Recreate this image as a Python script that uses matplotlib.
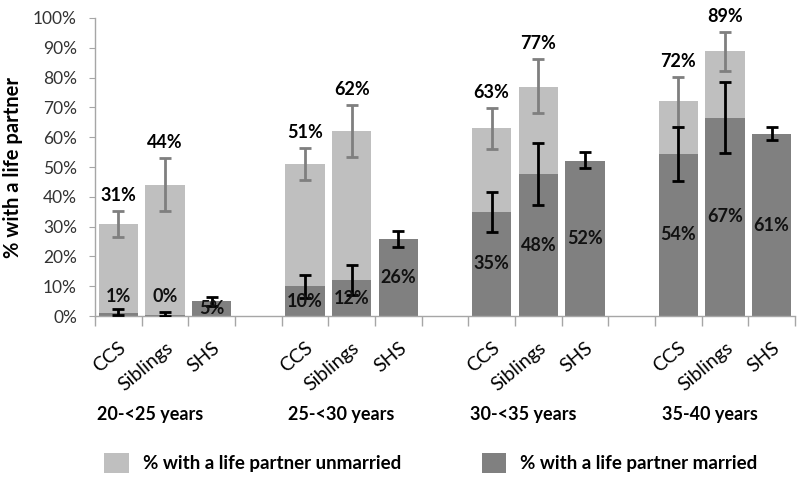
import matplotlib
matplotlib.use("Agg")
import matplotlib.pyplot as plt
from matplotlib.patches import Patch
from matplotlib.transforms import ScaledTranslation
import numpy as np

plt.rcParams['font.family'] = ['Lato', 'DejaVu Sans']

groups = ["20-<25 years", "25-<30 years", "30-<35 years", "35-40 years"]
cohorts = ["CCS", "Siblings", "SHS"]

# married (%), per group: CCS, Siblings, SHS
married = [1, 0.4, 5,
           10, 12, 26,
           35, 47.6, 52,
           54.4, 66.6, 61]
married_lo = [0.3, 0.0, 3.5,
              6.0, 7.0, 23.3,
              28.1, 37.1, 49.6,
              45.4, 54.8, 59.1]
married_hi = [2.2, 1.3, 6.5,
              13.8, 17.1, 28.6,
              41.7, 58.2, 54.9,
              63.5, 78.6, 63.3]

# total with life partner (married + unmarried), CCS and Siblings only
total = [31, 44, 51, 62, 63, 77, 72, 89]
total_lo = [26.6, 35.3, 45.6, 53.5, 56.0, 68.0, 63.5, 82.3]
total_hi = [35.3, 52.9, 56.5, 70.8, 69.7, 86.1, 80.1, 95.4]

light = '#bfbfbf'
dark = '#808080'

fig = plt.figure(figsize=(8, 4.86), dpi=100)
ax = fig.add_axes([95/800, 1-316/486, 700/800, 298/486])

width = 0.84
xpos_m = []
xpos_t = []
for g in range(len(groups)):
    for c in range(len(cohorts)):
        xpos_m.append(g*4 + c)
        if c < 2:
            xpos_t.append(g*4 + c)
xpos_m = np.array(xpos_m)
xpos_t = np.array(xpos_t)
married = np.array(married)
total = np.array(total)

# unmarried segment stacked on married
m_for_t = np.array([married[i] for i in range(len(married)) if i % 3 < 2])
ax.bar(xpos_t, total - m_for_t, bottom=m_for_t, width=width, color=light, zorder=2)
ax.bar(xpos_m, married, width=width, color=dark, zorder=2)

# error bars
ax.errorbar(xpos_t, total, yerr=[total - np.array(total_lo), np.array(total_hi) - total],
            fmt='none', ecolor='#7f7f7f', elinewidth=2, capsize=4, capthick=2, zorder=3)
ax.errorbar(xpos_m, married, yerr=[married - np.array(married_lo), np.array(married_hi) - married],
            fmt='none', ecolor='black', elinewidth=2, capsize=4, capthick=2, zorder=4)

# labels
for x, t, hi in zip(xpos_t, total, total_hi):
    ax.text(x, hi + 5.2, f"{t:.0f}%", ha='center', va='center', fontsize=13,
            fontweight='bold', color='black', zorder=5)
for x, m in zip(xpos_m, married):
    y = m/2 if m/2 >= 2 else 6.7
    ax.text(x, y, f"{m:.0f}%", ha='center', va='center', fontsize=13,
            fontweight='bold', color='#111111', zorder=5)

ax.set_xlim(-0.5, 14.5)
ax.set_ylim(0, 100)
ax.set_yticks(np.arange(0, 101, 10))
ax.set_yticklabels([f"{v}%" for v in range(0, 101, 10)], fontsize=12.5, color='#333333')
ax.tick_params(axis='y', length=4, color='#a6a6a6', pad=9)

ax.set_xticks(xpos_m)
ax.set_xticklabels(cohorts * len(groups), rotation=40, ha='right', va='center',
                   rotation_mode='anchor', fontsize=14, color='black')
ax.tick_params(axis='x', which='major', length=0, pad=21)
off = ScaledTranslation(4/72, 0, fig.dpi_scale_trans)
for lab in ax.get_xticklabels():
    lab.set_transform(lab.get_transform() + off)
ax.set_xticks(np.arange(-0.5, 15, 1), minor=True)
ax.tick_params(axis='x', which='minor', length=7, color='#a6a6a6', width=1)

for s in ['top', 'right']:
    ax.spines[s].set_visible(False)
for s in ['left', 'bottom']:
    ax.spines[s].set_color('#a6a6a6')
    ax.spines[s].set_linewidth(1)

ax.set_ylabel("% with a life partner", fontsize=14.5, fontweight='bold', labelpad=7)

group_x = [150, 341, 523, 710]
for gx, gname in zip(group_x, groups):
    fig.text(gx/800, 1-414/486, gname, ha='center', va='center', fontsize=13,
             fontweight='bold', color='black')

handles = [Patch(facecolor=light, label='% with a life partner unmarried'),
           Patch(facecolor=dark, label='% with a life partner married')]
fig.legend(handles=handles, loc='center', bbox_to_anchor=(431/800, 1-463/486), ncol=2,
           frameon=False, prop={'size': 13.5, 'weight': 'bold'}, handlelength=1.3,
           handleheight=1.3, handletextpad=0.75, columnspacing=4.3)

fig.savefig("out.png", dpi=100)
